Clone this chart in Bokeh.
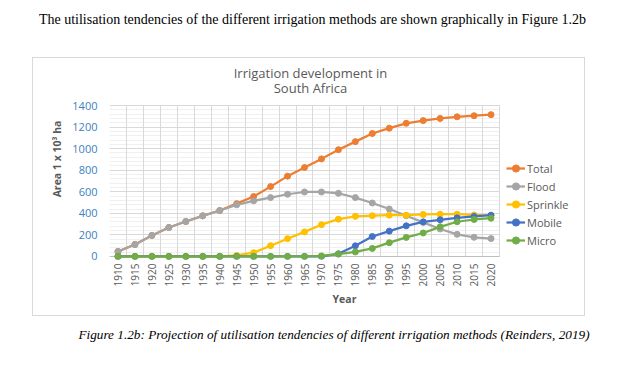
import math
from bokeh.plotting import figure
from bokeh.layouts import column
from bokeh.models import (Range1d, FixedTicker, Legend, LegendItem, Grid, Div, Label)
from bokeh.embed import file_html
from bokeh.resources import INLINE

# ---------------- data ----------------
years = [1910, 1915, 1920, 1925, 1930, 1935, 1940, 1945, 1950, 1955, 1960, 1965,
         1970, 1975, 1980, 1985, 1990, 1995, 2000, 2005, 2010, 2015, 2020]
total = [46, 111, 195, 269, 324, 377, 426, 490, 556, 648, 745, 825,
         905, 990, 1065, 1140, 1190, 1235, 1260, 1280, 1295, 1305, 1315]
flood = [46, 111, 195, 269, 324, 377, 426, 479, 516, 546, 577, 598,
         598, 586, 546, 496, 440, 378, 316, 255, 205, 178, 166]
sprinkle = [0, 0, 0, 0, 0, 0, 0, 10, 35, 100, 165, 228,
            295, 346, 372, 378, 383, 383, 390, 392, 392, 385, 380]
mobile = [0, 0, 0, 0, 0, 0, 0, 0, 0, 0, 0, 0,
          0, 25, 99, 185, 235, 284, 321, 340, 358, 371, 383]
micro = [0, 0, 0, 0, 0, 0, 0, 0, 0, 0, 0, 0,
         5, 22, 42, 75, 128, 177, 218, 275, 322, 343, 355]

series_names = ["Total", "Flood", "Sprinkle", "Mobile", "Micro"]
series_values = [total, flood, sprinkle, mobile, micro]
series_colors = ["#ED7D31", "#A5A5A5", "#FFC000", "#4472C4", "#70AD47"]

y_ticks = [0, 200, 400, 600, 800, 1000, 1200, 1400]

header_text = ("The utilisation tendencies of the different irrigation methods "
               "are shown graphically in Figure 1.2b")
caption_text = ("Figure 1.2b: Projection of utilisation tendencies of different "
                "irrigation methods (Reinders, 2019)")
title_line1 = "Irrigation development in"
title_line2 = "South Africa"

GREY_TXT = "#595959"
SANS = "Open Sans"

# ---------------- header ----------------
header = Div(text=(f'<div style="width:625px;text-align:center;'
                   f'font-family:\'Liberation Serif\';font-size:14px;line-height:16px;'
                   f'padding-top:12px;color:#000;white-space:nowrap">{header_text}</div>'),
             width=625, height=58, margin=0)

# ---------------- figure ----------------
FIG_W, FIG_H = 551, 257
MB_L, MB_R, MB_T, MB_B = 76, 5, 0, 56
step = years[1] - years[0]
x0 = years[0] - step / 2
x1 = years[-1] + step / 2
data_px_w = 390                      # pixel width of the category area
frame_px_w = FIG_W - MB_L - MB_R     # frame extends right to hold the legend
x_end = x0 + (x1 - x0) * frame_px_w / data_px_w

y_bottom, y_top_data = -28, y_ticks[-1]
data_px_h = 154                      # pixel height from y_bottom to top tick
frame_px_h = FIG_H - MB_T - MB_B     # frame extends up to hold the chart title
y_end = y_bottom + (y_top_data - y_bottom) * frame_px_h / data_px_h

p = figure(width=FIG_W, height=FIG_H,
           x_range=Range1d(x0, x_end), y_range=Range1d(y_bottom, y_end),
           output_backend="svg", toolbar_location=None,
           min_border_left=MB_L, min_border_right=MB_R,
           min_border_top=MB_T, min_border_bottom=MB_B,
           margin=(0, 0, 0, 33))
p.title = None
p.outline_line_color = None
p.background_fill_color = "white"
p.border_fill_color = "white"
p.styles = {"outline": "1px solid #d9d9d9"}

# chart title (screen px from frame left / frame bottom)
for txt, sy in ((title_line1, 187), (title_line2, 172)):
    p.add_layout(Label(x=201, y=sy, x_units="screen", y_units="screen", text=txt,
                       text_align="center", text_baseline="middle",
                       text_font=SANS, text_font_size="13px", text_color=GREY_TXT))

# grids
boundaries = [y - step / 2 for y in years] + [x1]
minor_x = Grid(dimension=0, ticker=FixedTicker(ticks=years),
               grid_line_color="#f0f0f0", grid_line_width=1,
               cross_bounds=(0, y_top_data))
p.add_layout(minor_x)
p.xgrid.ticker = FixedTicker(ticks=boundaries)
p.xgrid.grid_line_color = "#d9d9d9"
p.xgrid.grid_line_width = 1
p.xgrid.cross_bounds = (0, y_top_data)

minor_y = [v for v in range(0, y_top_data + 1, 40) if v % 200 != 0]
p.ygrid.ticker = FixedTicker(ticks=y_ticks, minor_ticks=minor_y)
p.ygrid.grid_line_color = "#d9d9d9"
p.ygrid.minor_grid_line_color = "#f0f0f0"
p.ygrid.cross_bounds = (x0, x1)

zero_line = Grid(dimension=1, ticker=FixedTicker(ticks=[0]),
                 grid_line_color="#bfbfbf", grid_line_width=1, cross_bounds=(x0, x1))
p.add_layout(zero_line)

# axes
xa = p.xaxis[0]
xa.ticker = FixedTicker(ticks=years)
xa.bounds = (x0, x1)
xa.major_label_orientation = math.pi / 2
xa.axis_line_color = None
xa.major_tick_line_color = None
xa.minor_tick_line_color = None
xa.major_tick_out = 0
xa.major_tick_in = 0
xa.minor_tick_out = 0
xa.major_label_standoff = 4
xa.major_label_text_font = SANS
xa.major_label_text_font_size = "10px"
xa.major_label_text_color = GREY_TXT
xa.axis_label = "Year"
xa.axis_label_text_font = SANS
xa.axis_label_text_font_size = "10.5px"
xa.axis_label_text_font_style = "bold"
xa.axis_label_text_color = GREY_TXT
xa.axis_label_standoff = 3

ya = p.yaxis[0]
ya.ticker = FixedTicker(ticks=y_ticks)
ya.bounds = (0, y_top_data)
ya.axis_line_color = None
ya.major_tick_line_color = None
ya.minor_tick_line_color = None
ya.major_tick_out = 0
ya.major_tick_in = 0
ya.minor_tick_out = 0
ya.major_label_standoff = 12
ya.major_label_text_font = SANS
ya.major_label_text_font_size = "11px"
ya.major_label_text_color = "#3d7fbf"
ya.axis_label = "Area 1 x 10³ ha"
ya.axis_label_text_font = SANS
ya.axis_label_text_font_size = "10.5px"
ya.axis_label_text_font_style = "bold"
ya.axis_label_text_color = GREY_TXT
ya.axis_label_standoff = 5

# series
items = []
for name, vals, col in zip(series_names, series_values, series_colors):
    r1 = p.line(years, vals, line_color=col, line_width=2.25)
    r2 = p.scatter(years, vals, size=6, fill_color=col, line_color=col)
    items.append(LegendItem(label=name, renderers=[r1, r2]))

legend = Legend(items=items, location=(397, 10), orientation="vertical",
                padding=0, margin=0, spacing=0,
                glyph_width=19, glyph_height=18, label_height=18,
                label_standoff=2, border_line_color=None,
                background_fill_alpha=0,
                label_text_font=SANS, label_text_font_size="11px",
                label_text_color=GREY_TXT)
p.add_layout(legend, "center")

# ---------------- caption ----------------
caption = Div(text=(f'<div style="box-sizing:border-box;width:625px;padding-left:43px;'
                    f'text-align:center;'
                    f'font-family:\'Liberation Serif\';font-size:13.25px;line-height:16px;'
                    f'font-style:italic;padding-top:12px;color:#000;white-space:nowrap">'
                    f'{caption_text}</div>'),
              width=625, height=55, margin=0)

page = column(header, p, caption, spacing=0, margin=0)

open("out.html", "w").write(file_html(page, INLINE))
